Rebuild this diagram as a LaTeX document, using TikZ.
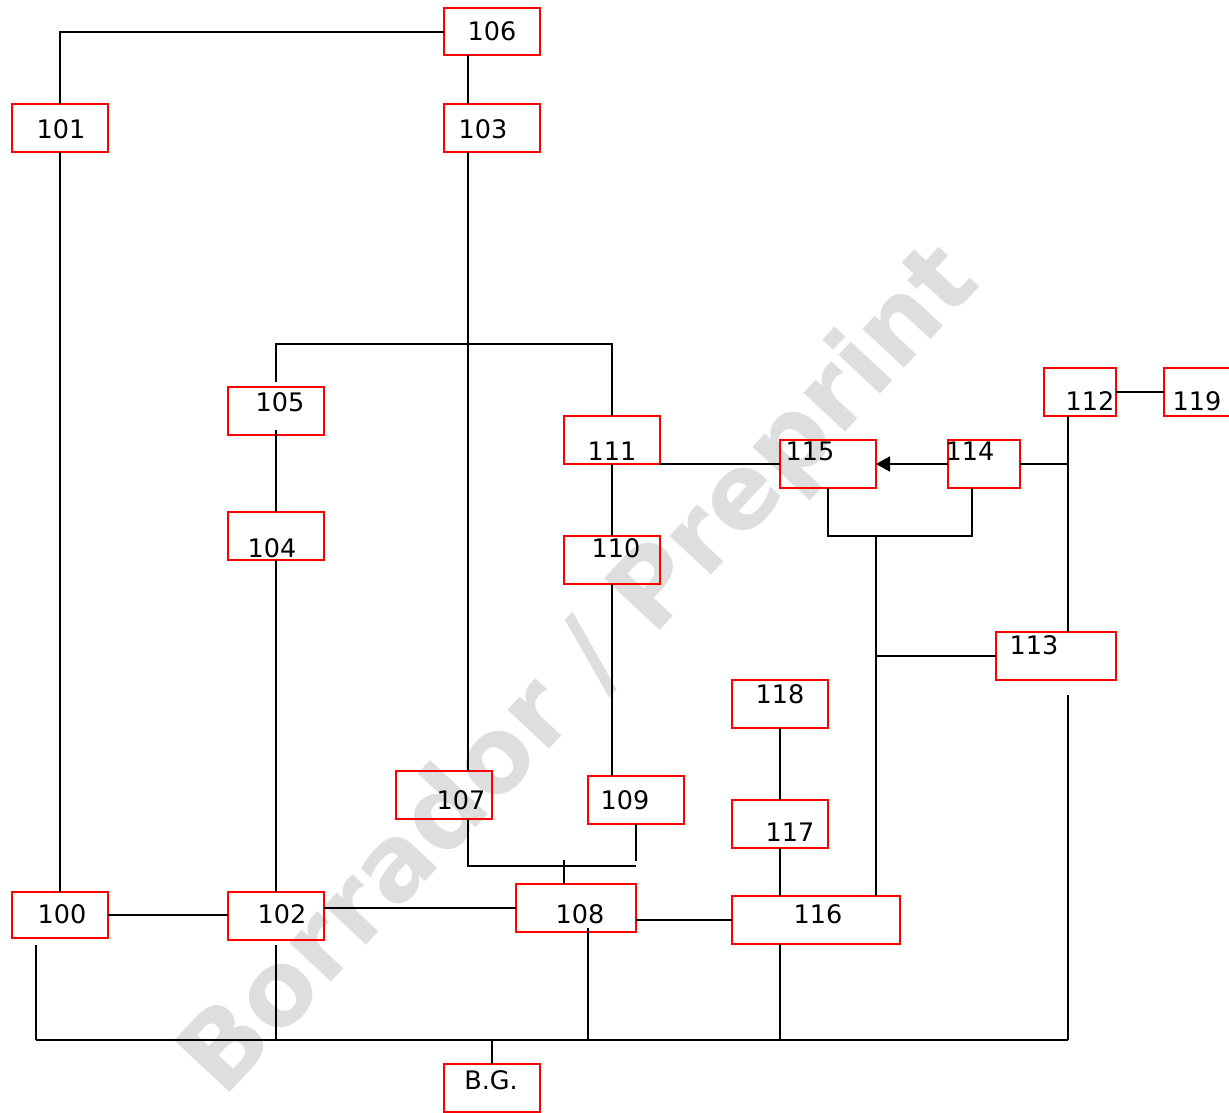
\documentclass[tikz,border=0pt]{standalone}
\usepackage{fontspec}
\setmainfont{DejaVu Sans}
\usetikzlibrary{arrows.meta,calc}
\begin{document}
\begin{tikzpicture}[x=1pt,y=-1pt,
  box/.style={draw=red,line width=2pt,minimum width=#1,minimum height=48pt,inner sep=0pt,outer sep=0pt,anchor=center},
  box/.default=96pt,
  txt/.style={font=\fontsize{25.5}{25.5}\selectfont,inner sep=0pt,anchor=center},
  wire/.style={line width=2pt,draw=black},
  wm/.style={font=\fontsize{104}{104}\selectfont\bfseries,text=black!13,inner sep=0pt}]
\useasboundingbox (0,0) rectangle (1229,1112);
\clip (0,0) rectangle (1229,1112);
\node[wm,rotate=47] (wmark) at (582,672) {Borrador / Preprint};
% boxes
\node[box,minimum height=47pt] (n106) at (492,31.5) {};
\node[box] (n101) at (60,128) {};
\node[box] (n103) at (492,128) {};
\node[box] (n105) at (276,411) {};
\node[box] (n104) at (276,536) {};
\node[box] (n111) at (612,440) {};
\node[box] (n110) at (612,560) {};
\node[box] (n115) at (828,464) {};
\node[box=72pt] (n114) at (984,464) {};
\node[box=72pt] (n112) at (1080,392) {};
\node[box=72pt] (n119) at (1200,392) {};
\node[box=120pt] (n113) at (1056,656) {};
\node[box] (n118) at (780,704) {};
\node[box] (n117) at (780,824) {};
\node[box=168pt] (n116) at (816,920) {};
\node[box] (n107) at (444,795) {};
\node[box] (n109) at (636,800) {};
\node[box=120pt] (n108) at (576,908) {};
\node[box,minimum height=46pt] (n100) at (60,915) {};
\node[box] (n102) at (276,916) {};
\node[box] (nbg) at (492,1088) {};
% labels
\node[txt] (t106) at (492,31) {106};
\node[txt] (t101) at (61,129) {101};
\node[txt] (t103) at (483,129) {103};
\node[txt] (t105) at (280,402) {105};
\node[txt] (t104) at (272,548) {104};
\node[txt] (t111) at (612,451) {111};
\node[txt] (t110) at (616,548) {110};
\node[txt] (t115) at (810,451) {115};
\node[txt] (t114) at (970,451) {114};
\node[txt] (t112) at (1090,401) {112};
\node[txt] (t119) at (1197,401) {119};
\node[txt] (t113) at (1034,645) {113};
\node[txt] (t118) at (780,694) {118};
\node[txt] (t117) at (790,832) {117};
\node[txt] (t116) at (818,914) {116};
\node[txt] (t107) at (461,800) {107};
\node[txt] (t109) at (625,800) {109};
\node[txt] (t108) at (580,914) {108};
\node[txt] (t100) at (62,914) {100};
\node[txt] (t102) at (282,914) {102};
\node[txt] (tbg) at (491,1080) {B.G.};
% junctions
\coordinate (hb) at (468,344);
\coordinate (j1) at (636,866);
\coordinate (tk) at (564,860);
\coordinate (j112) at (1068,464);
\coordinate (k1) at (876,536);
\coordinate (k2) at (972,536);
\coordinate (k3) at (876,656);
\coordinate (g113) at (1068,695);
\coordinate (busL) at (36,1040);
\coordinate (busR) at (1068,1040);
\coordinate (g100) at (36,945);
\coordinate (g102) at (276,945);
\coordinate (g108) at (588,928);
\coordinate (g116) at (780,944);
\coordinate (bgb) at (492,1040);
% wires
\draw[wire] (n106.west) -| (n101.north);
\draw[wire] ([xshift=-24pt]n106.south) -- ([xshift=-24pt]n103.north);
\draw[wire] ([xshift=-24pt]n103.south) -- ([xshift=-24pt]n103.south |- n107.north);
\draw[wire] ([yshift=5pt]n105.north) |- (hb) -| (n111.north);
\draw[wire] (n101.south) -- (n100.north);
\draw[wire] ([yshift=5pt]n105.south) -- (n104.north);
\draw[wire] (n104.south) -- (n102.north);
\draw[wire] (n111.south) -- (n110.north);
\draw[wire] (n110.south) -- (n110.south |- n109.north);
\draw[wire] ([xshift=24pt]n107.south) |- (j1);
\draw[wire] (n109.south) -- ([yshift=5pt]j1);
\draw[wire] (tk) -- (tk |- n108.north);
\draw[wire] (n115.west -| n111.east) -- (n115.west);
\draw[wire,-{Triangle[length=14pt,width=15pt]}] (n114.west) -- (n115.east);
\draw[wire] (n114.east) -- (j112);
\draw[wire] ([xshift=-12pt]n112.south) -- ([xshift=-12pt]n112.south |- n113.north);
\draw[wire] (n112.east) -- (n119.west);
\draw[wire] (n115.south) |- (k2) -- ([xshift=-12pt]n114.south);
\draw[wire] (k1) -- (k1 |- n116.north);
\draw[wire] (k3) -- (n113.west);
\draw[wire] (g113) -- (busR);
\draw[wire] (busL) -- (busR);
\draw[wire] (g100) -- (busL);
\draw[wire] (g102) -- (g102 |- busL);
\draw[wire] (g108) -- (g108 |- busL);
\draw[wire] (g116) -- (g116 |- busL);
\draw[wire] (bgb) -- (nbg.north);
\draw[wire] (n100.east) -- (n100.east -| n102.west);
\draw[wire] (n102.east |- n108.west) -- (n108.west);
\draw[wire] (n108.east |- n116.west) -- (n116.west);
\draw[wire] (n118.south) -- (n117.north);
\draw[wire] (n117.south) -- (n117.south |- n116.north);
\end{tikzpicture}
\end{document}
